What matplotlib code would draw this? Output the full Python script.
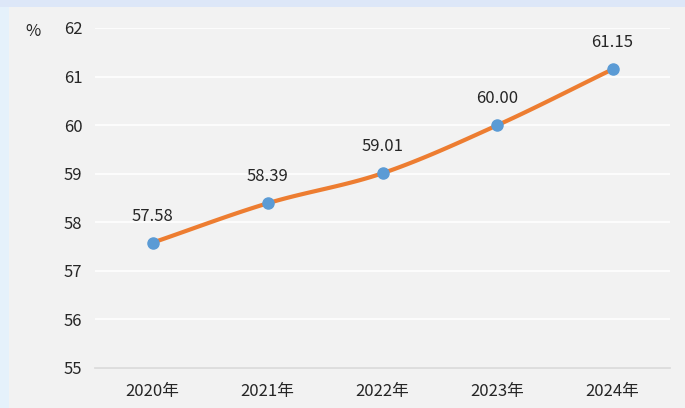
import numpy as np
import matplotlib.pyplot as plt
from matplotlib.patches import Rectangle

plt.rcParams['font.family'] = ['Noto Sans CJK SC', 'DejaVu Sans']

# data
years = ["2020年", "2021年", "2022年", "2023年", "2024年"]
rates = [57.58, 58.39, 59.01, 60.00, 61.15]
labels = ["57.58", "58.39", "59.01", "60.00", "61.15"]
y_ticks = [55, 56, 57, 58, 59, 60, 61, 62]


def smooth(x, y, n=30):
    # Catmull-Rom style curve through the points, like a smoothed Excel line
    x = np.asarray(x, float)
    y = np.asarray(y, float)
    px = np.concatenate([[2 * x[0] - x[1]], x, [2 * x[-1] - x[-2]]])
    py = np.concatenate([[2 * y[0] - y[1]], y, [2 * y[-1] - y[-2]]])
    xs, ys = [], []
    t = np.linspace(0, 1, n)
    for i in range(1, len(px) - 2):
        for p, out in ((px, xs), (py, ys)):
            p0, p1, p2, p3 = p[i - 1], p[i], p[i + 1], p[i + 2]
            out.extend(0.5 * (2 * p1 + (-p0 + p2) * t
                              + (2 * p0 - 5 * p1 + 4 * p2 - p3) * t ** 2
                              + (-p0 + 3 * p1 - 3 * p2 + p3) * t ** 3))
    return np.array(xs), np.array(ys)


fig = plt.figure(figsize=(6.85, 4.08), dpi=100)
fig.patch.set_facecolor("#f2f2f2")
# light blue frame on the left and top edges
fig.add_artist(Rectangle((0, 0), 9 / 685, 1, transform=fig.transFigure,
                         facecolor="#e5f1fb", edgecolor="none", zorder=-1))
fig.add_artist(Rectangle((0, 1 - 7 / 408), 1, 7 / 408, transform=fig.transFigure,
                         facecolor="#dde7f8", edgecolor="none", zorder=-1))

ax = fig.add_axes([95 / 685, 40 / 408, 575 / 685, 340 / 408])
ax.set_facecolor("#f2f2f2")

x = np.arange(len(years))
sx, sy = smooth(x, rates)
ax.plot(sx, sy, color="#ed7d31", linewidth=3, solid_capstyle="round", zorder=3)
ax.plot(x, rates, "o", color="#5b9bd5", markersize=8, zorder=4)
for xi, yi, lab in zip(x, rates, labels):
    ax.annotate(lab, (xi, yi), xytext=(0, 19), textcoords="offset points",
                ha="center", va="center", fontsize=12, color="#262626")

ax.set_xlim(-0.5, len(years) - 0.5)
ax.set_ylim(55, 62)
ax.set_yticks(y_ticks)
ax.set_xticks(x)
ax.set_xticklabels(years)
ax.grid(axis="y", color="white", linewidth=1.2)
ax.set_axisbelow(True)
for s in ["top", "right", "left"]:
    ax.spines[s].set_visible(False)
ax.spines["bottom"].set_color("#d9d9d9")
ax.spines["bottom"].set_linewidth(1.2)
ax.tick_params(length=0, labelsize=12, colors="#262626")
ax.tick_params(axis="y", pad=9)
ax.tick_params(axis="x", pad=11)

fig.text(33 / 685, 1 - 32 / 408, "%", ha="center", va="center",
         fontsize=12, color="#262626")

fig.savefig("out.png", dpi=100, facecolor=fig.get_facecolor())
